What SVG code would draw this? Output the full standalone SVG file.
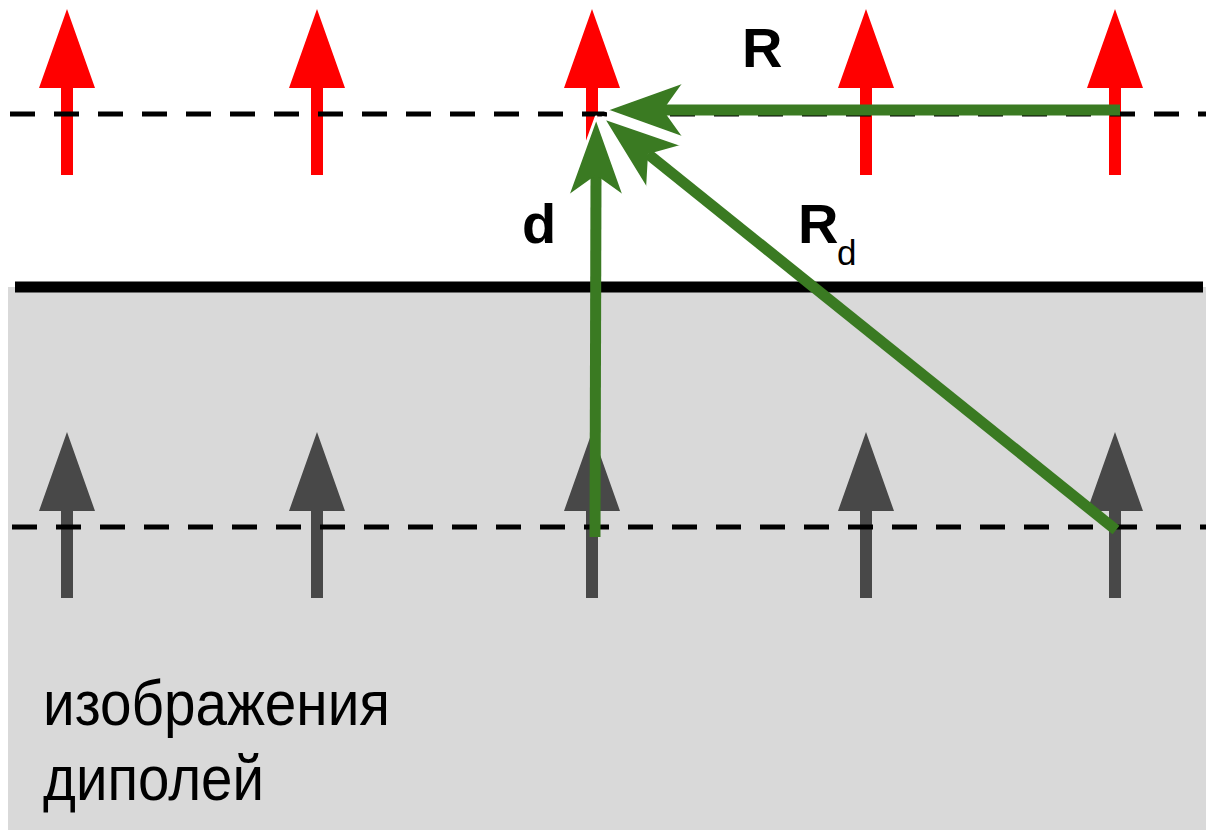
<svg xmlns="http://www.w3.org/2000/svg" xmlns:xlink="http://www.w3.org/1999/xlink" width="1206" height="830" viewBox="0 0 1206 830">
  <style>
    .red{fill:#ff0000}
    .gray{fill:#484848}
    .dash{stroke:#000;stroke-width:5;stroke-dasharray:25 19;fill:none}
    .vec{stroke:#3a7a22;stroke-width:11;fill:none;marker-end:url(#head)}
    .lbl{font-family:"Liberation Sans",Arial,sans-serif;fill:#000}
    .b{font-weight:bold;font-size:56px}
  </style>
  <defs>
    <path id="dipole" d="M0,0 L28,79 L6,79 L6,166 L-6,166 L-6,79 L-28,79 Z"/>
    <marker id="head" markerUnits="userSpaceOnUse" markerWidth="78" markerHeight="56" refX="20" refY="28" orient="auto" overflow="visible">
      <path d="M0,0 L78,28 L0,56 L20,28 Z" fill="#3a7a22"/>
      <path d="M0,0 L78,28 L0,56" fill="none" stroke="#fff" stroke-width="3" stroke-linejoin="round"/>
    </marker>
  </defs>
  <rect width="1206" height="830" fill="#fff"/>
  <g id="substrate">
    <rect x="8" y="287" width="1198" height="543" fill="#d9d9d9"/>
    <line x1="15" y1="287" x2="1203" y2="287" stroke="#000" stroke-width="11"/>
  </g>
  <g id="dipoles">
    <use xlink:href="#dipole" class="red" x="67" y="9"/>
    <use xlink:href="#dipole" class="red" x="317" y="9"/>
    <use xlink:href="#dipole" class="red" x="592" y="9"/>
    <use xlink:href="#dipole" class="red" x="866" y="9"/>
    <use xlink:href="#dipole" class="red" x="1115" y="9"/>
  </g>
  <g id="images">
    <use xlink:href="#dipole" class="gray" x="67" y="432"/>
    <use xlink:href="#dipole" class="gray" x="317" y="432"/>
    <use xlink:href="#dipole" class="gray" x="592" y="432"/>
    <use xlink:href="#dipole" class="gray" x="866" y="432"/>
    <use xlink:href="#dipole" class="gray" x="1115" y="432"/>
  </g>
  <g id="planes">
    <line class="dash" x1="10" y1="114" x2="1206" y2="114"/>
    <line class="dash" x1="12" y1="527" x2="1206" y2="527"/>
  </g>
  <g id="connectors">
    <line id="vec-d" class="vec" x1="595" y1="537" x2="596" y2="175"/>
    <line id="vec-Rd" class="vec" x1="1116" y1="530" x2="648" y2="154"/>
    <line id="vec-R" class="vec" x1="1120" y1="110" x2="663" y2="110"/>
  </g>
  <g id="labels">
    <text class="lbl b" x="742" y="67">R</text>
    <text class="lbl b" x="522" y="243">d</text>
    <text class="lbl b" x="798" y="243">R</text>
    <text class="lbl" x="837" y="265" font-size="35">d</text>
    <text class="lbl" x="43" y="725" font-size="63" textLength="347" lengthAdjust="spacingAndGlyphs">изображения</text>
    <text class="lbl" x="43" y="800" font-size="63" textLength="221" lengthAdjust="spacingAndGlyphs">диполей</text>
  </g>
</svg>
